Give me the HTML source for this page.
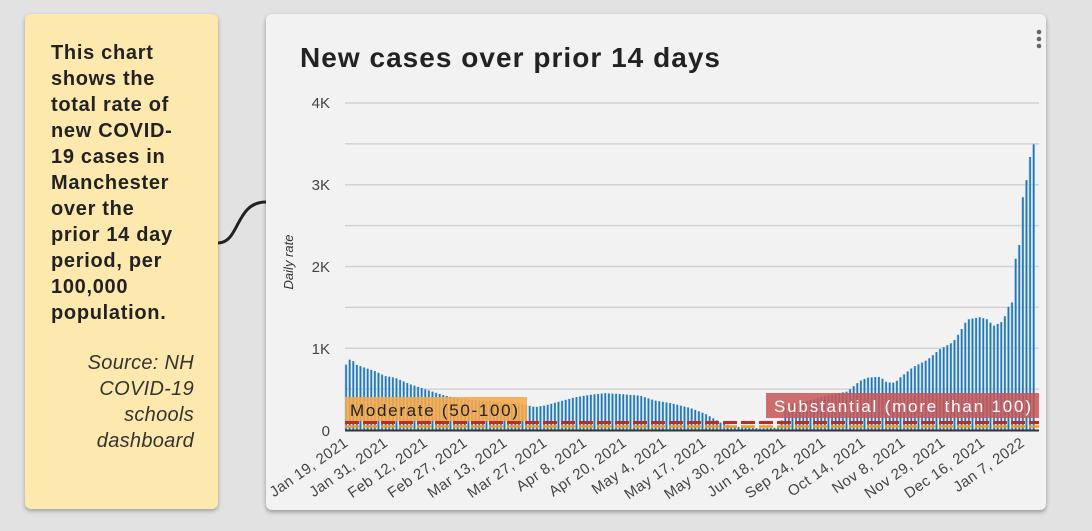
<!DOCTYPE html>
<html><head><meta charset="utf-8"><style>
html,body{margin:0;padding:0;background:#e2e2e2;width:1092px;height:531px;overflow:hidden;font-family:"Liberation Sans",sans-serif}
.note{position:absolute;left:25px;top:14px;width:193px;height:495px;background:#fde9ae;border-radius:6px;box-shadow:0 2px 4px rgba(0,0,0,.3)}
.note .t{position:absolute;left:26px;top:26px;font-weight:bold;font-size:20px;line-height:26px;color:#222;width:136px;letter-spacing:0.7px}
.note .s{position:absolute;right:24px;top:336px;text-align:right;font-style:italic;font-size:20px;line-height:26px;color:#333;width:140px;letter-spacing:0.3px}
.card{position:absolute;left:266px;top:14px;width:780px;height:496px;background:#f2f2f2;border-radius:6px;box-shadow:0 2px 4px rgba(0,0,0,.35)}
svg{position:absolute;left:0;top:0}
</style></head><body>
<div class="note"><div class="t">This chart shows the total rate of new COVID-19 cases in Manchester over the prior 14 day period, per 100,000 population.</div>
<div class="s">Source: NH COVID-19 schools dashboard</div></div>
<div class="card"></div>
<svg id="s" width="1092" height="531" xmlns="http://www.w3.org/2000/svg" font-family="Liberation Sans, sans-serif">
<path d="M218 243 C 240 243, 235 202, 266 202" stroke="#222" stroke-width="3" fill="none"/>
<text x="300" y="67" font-size="28" font-weight="bold" fill="#222" textLength="420" lengthAdjust="spacing">New cases over prior 14 days</text>
<circle cx="1039" cy="32" r="2.3" fill="#666"/><circle cx="1039" cy="39" r="2.3" fill="#666"/><circle cx="1039" cy="46" r="2.3" fill="#666"/>
<g id="grid"></g><g id="bars"></g>
<g font-size="15" fill="#444" text-anchor="end">
<text x="330" y="108">4K</text><text x="330" y="190">3K</text><text x="330" y="272">2K</text><text x="330" y="354">1K</text><text x="330" y="436">0</text>
</g>
<text transform="translate(293,262) rotate(-90)" font-size="13" font-style="italic" fill="#333" text-anchor="middle">Daily rate</text>
<g id="xl" font-size="15" fill="#444" text-anchor="end" letter-spacing="0.4"></g>
</svg>
<script>
var NS="http://www.w3.org/2000/svg";
function el(p,t,a,txt){var e=document.createElementNS(NS,t);for(var k in a)e.setAttribute(k,a[k]);if(txt)e.textContent=txt;document.getElementById(p).appendChild(e);return e;}
function Y(v){return 430-v*0.08175;}
for(var i=1;i<=8;i++){var y=430-i*40.875;el("grid","line",{x1:345,x2:1039,y1:y,y2:y,stroke:"#d2d2d2","stroke-width":1.5});}
var kp=[[345,770],[348,860],[352,860],[356,800],[365,760],[375,720],[385,660],[395,640],[410,560],[420,520],[432,470],[445,420],[460,380],[480,360],[500,340],[520,320],[528,300],[535,280],[545,300],[560,350],[575,400],[590,430],[605,450],[620,440],[640,420],[655,360],[670,330],[690,270],[705,200],[715,130],[722,80],[735,40],[760,20],[780,30],[785,300],[800,330],[815,380],[830,430],[847,470],[860,600],[867,640],[880,650],[887,580],[895,580],[900,640],[913,770],[927,855],[940,990],[953,1075],[960,1200],[967,1350],[980,1380],[988,1350],[993,1270],[1003,1330],[1008,1500],[1012,1560],[1015,2070],[1019,2230],[1023,2880],[1026,3020],[1029,3290],[1033,3490],[1037,3520]];
function f(x){for(var i=0;i<kp.length-1;i++){if(x>=kp[i][0]&&x<=kp[i+1][0]){var t=(x-kp[i][0])/(kp[i+1][0]-kp[i][0]);return kp[i][1]+t*(kp[i+1][1]-kp[i][1]);}}return 3520;}
for(var x=346;x<=1037;x+=3.6){var v=f(x);el("bars","rect",{x:x-1.3,y:Y(v),width:2.6,height:430-Y(v),fill:"#a9cbe3"});el("bars","rect",{x:x-0.7,y:Y(v),width:1.6,height:430-Y(v),fill:"#1f78b4"});}
el("bars","line",{x1:345,x2:1039,y1:422.5,y2:422.5,stroke:"#c0282a","stroke-width":3,"stroke-dasharray":"14 4"});
el("bars","line",{x1:345,x2:1039,y1:426.5,y2:426.5,stroke:"#f39c1f","stroke-width":2.5,"stroke-dasharray":"14 4"});
el("bars","line",{x1:345,x2:1039,y1:430.5,y2:430.5,stroke:"#333","stroke-width":2});
el("bars","rect",{x:345,y:397,width:182,height:24,fill:"#f7a94a","fill-opacity":0.88});
el("bars","text",{x:350,y:416,"font-size":17,fill:"#222",textLength:168,lengthAdjust:"spacing"},"Moderate (50-100)");
el("bars","rect",{x:766,y:393,width:273,height:25,fill:"#c85656","fill-opacity":0.85});
el("bars","text",{x:774,y:412,"font-size":17,fill:"#fff",textLength:257,lengthAdjust:"spacing"},"Substantial (more than 100)");
var L=["Jan 19, 2021","Jan 31, 2021","Feb 12, 2021","Feb 27, 2021","Mar 13, 2021","Mar 27, 2021","Apr 8, 2021","Apr 20, 2021","May 4, 2021","May 17, 2021","May 30, 2021","Jun 18, 2021","Sep 24, 2021","Oct 14, 2021","Nov 8, 2021","Nov 29, 2021","Dec 16, 2021","Jan 7, 2022"];
for(var i=0;i<L.length;i++){var x=349+i*39.8;el("xl","text",{transform:"translate("+x+",445) rotate(-35)"},L[i]);}
</script>
</body></html>
